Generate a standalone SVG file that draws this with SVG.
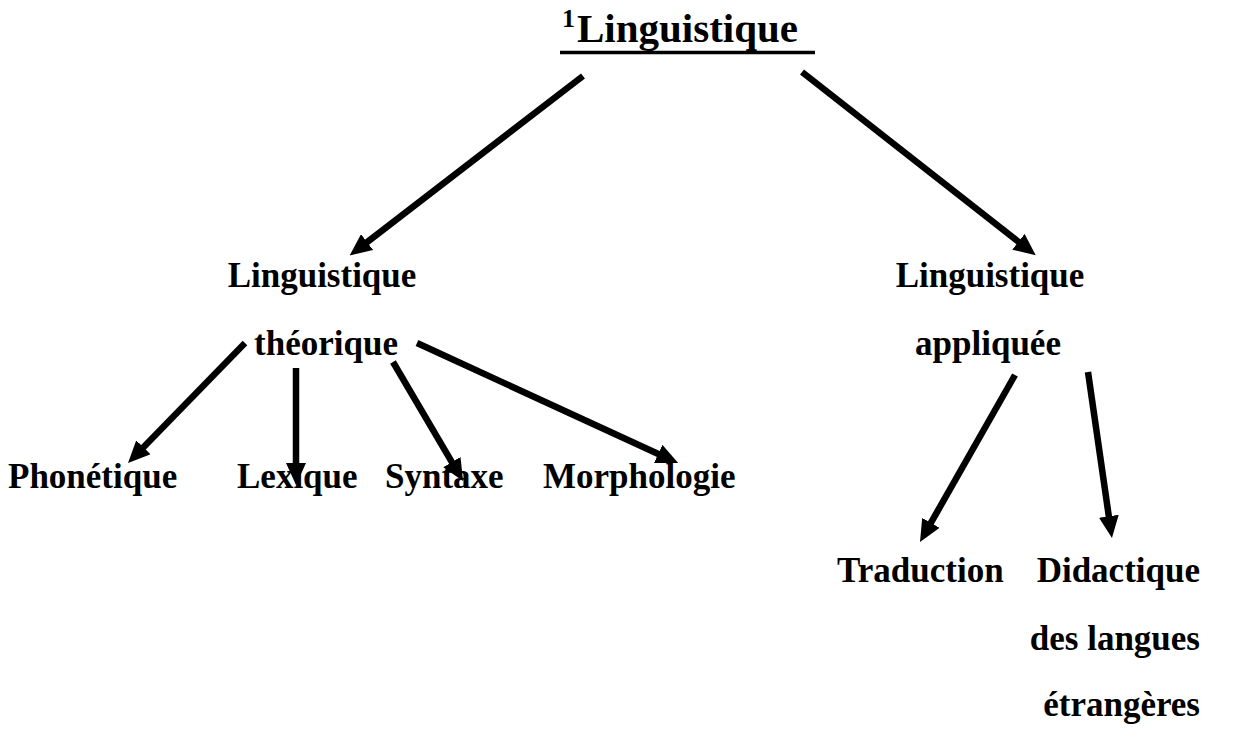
<svg xmlns="http://www.w3.org/2000/svg" width="1243" height="729" viewBox="0 0 1243 729">
<style>
.t{font-family:"Liberation Serif","Times New Roman",serif;font-weight:bold;fill:#000;font-size:35px}
.c{stroke:#000;stroke-width:6.5;fill:none;marker-end:url(#ah)}
</style>
<defs>
<marker id="ah" viewBox="0 0 22 20" refX="2" refY="10" markerWidth="22" markerHeight="20" markerUnits="userSpaceOnUse" orient="auto">
<path d="M0,0 L22,10 L0,20 z" fill="#000"/>
</marker>
</defs>
<rect width="1243" height="729" fill="#fff"/>
<g id="connectors">
<line class="c" x1="583" y1="76" x2="365.5" y2="243.3"/>
<line class="c" x1="802" y1="72" x2="1020" y2="243"/>
<line class="c" x1="245" y1="343" x2="142" y2="448.7"/>
<line class="c" x1="296" y1="368" x2="296" y2="465"/>
<line class="c" x1="393" y1="362" x2="452.9" y2="463.8"/>
<line class="c" x1="417" y1="343" x2="660" y2="454.7"/>
<line class="c" x1="1015" y1="375" x2="929.9" y2="524.6"/>
<line class="c" x1="1088" y1="372" x2="1109.1" y2="518.2"/>
</g>
<g id="root">
<text class="t" x="562" y="27" style="font-size:26px">1</text>
<text class="t" x="577" y="42" style="font-size:41px">Linguistique</text>
<line x1="560" y1="52.5" x2="815" y2="52.5" stroke="#000" stroke-width="3.5"/>
</g>
<g id="theorique">
<text class="t" x="322" y="287" text-anchor="middle">Linguistique</text>
<text class="t" x="326" y="355" text-anchor="middle">théorique</text>
</g>
<g id="appliquee">
<text class="t" x="990" y="287" text-anchor="middle">Linguistique</text>
<text class="t" x="988" y="355" text-anchor="middle">appliquée</text>
</g>
<g id="phonetique"><text class="t" x="8" y="488">Phonétique</text></g>
<g id="lexique"><text class="t" x="237" y="488">Lexique</text></g>
<g id="syntaxe"><text class="t" x="385" y="488">Syntaxe</text></g>
<g id="morphologie"><text class="t" x="543" y="488">Morphologie</text></g>
<g id="traduction"><text class="t" x="837" y="582">Traduction</text></g>
<g id="didactique">
<text class="t" x="1200" y="582" text-anchor="end">Didactique</text>
<text class="t" x="1200" y="650" text-anchor="end">des langues</text>
<text class="t" x="1200" y="716" text-anchor="end">étrangères</text>
</g>
</svg>
